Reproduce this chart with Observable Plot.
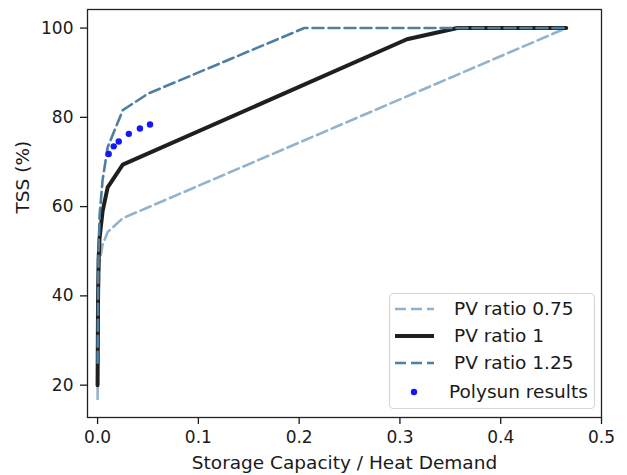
<!DOCTYPE html>
<html>
<head>
<meta charset="utf-8">
<script src="https://cdn.jsdelivr.net/npm/d3@7"></script>
<script src="https://cdn.jsdelivr.net/npm/@observablehq/plot@0.6"></script>
<style>
  html, body { margin: 0; padding: 0; background: #fff; }
  #chart { width: 627px; height: 475px; }
  svg { font-family: "DejaVu Sans", sans-serif; }
</style>
</head>
<body>
<div id="chart"></div>
<script>
// ---- data ----
const storage075 = [0, 0.0005, 0.001, 0.002, 0.005, 0.01, 0.025, 0.465];
const tss075     = [16.9, 30, 42, 47.5, 51.5, 54.3, 57.4, 100];

const storage1 = [0, 0.0005, 0.001, 0.002, 0.005, 0.01, 0.025, 0.307, 0.357, 0.465];
const tss1     = [20, 40, 48, 53, 59, 64.3, 69.4, 97.5, 100, 100];

const storage125 = [0, 0.0005, 0.001, 0.002, 0.005, 0.01, 0.025, 0.05, 0.205, 0.465];
const tss125     = [25, 40, 50, 58, 66, 73.3, 81.6, 85.3, 100, 100];

const polysunX = [0.011, 0.016, 0.021, 0.031, 0.042, 0.052];
const polysunY = [71.8, 73.5, 74.6, 76.3, 77.5, 78.4];

const xTicks = [0, 0.1, 0.2, 0.3, 0.4, 0.5];
const yTicks = [20, 40, 60, 80, 100];

const seriesLabels = ["PV ratio 0.75", "PV ratio 1", "PV ratio 1.25", "Polysun results"];
const xLabel = "Storage Capacity / Heat Demand";
const yLabel = "TSS (%)";

// ---- styles ----
const cLight = "#93b2cb";
const cBlack = "#1f1f1f";
const cDark = "#4e7fa3";
const cDots = "#1515ff";
const FS_TICK = 17;
const FS_LABEL = 18.5;

const toRows = (xs, ys) => xs.map((x, i) => ({x, y: ys[i]}));
const d075 = toRows(storage075, tss075);
const d1 = toRows(storage1, tss1);
const d125 = toRows(storage125, tss125);
const dPoly = toRows(polysunX, polysunY);

const W = 627, H = 475;
const chart = Plot.plot({
  width: W,
  height: H,
  marginLeft: 87,
  marginRight: 26,
  marginTop: 9,
  marginBottom: 58,
  style: {fontFamily: "DejaVu Sans", fontSize: FS_TICK + "px", color: "#1a1a1a", background: "#fff"},
  x: {domain: [-0.01, 0.5]},
  y: {domain: [12.75, 104.16]},
  marks: [
    Plot.line(d075, {x: "x", y: "y", stroke: cLight, strokeWidth: 2.6, strokeDasharray: "11,5"}),
    Plot.line(d1, {x: "x", y: "y", stroke: cBlack, strokeWidth: 4}),
    Plot.line(d125, {x: "x", y: "y", stroke: cDark, strokeWidth: 2.6, strokeDasharray: "11,5"}),
    Plot.dot(dPoly, {x: "x", y: "y", r: 3.2, fill: cDots, stroke: "none"}),
    Plot.axisX({ticks: xTicks, tickFormat: d3.format(".1f"), tickSize: 7, tickPadding: 6, label: null, fontSize: FS_TICK, strokeWidth: 1.3}),
    Plot.axisY({ticks: yTicks, tickSize: 7, tickPadding: 7, label: null, fontSize: FS_TICK, strokeWidth: 1.3}),
    Plot.frame({stroke: "#222", strokeWidth: 1.3}),
    Plot.text([xLabel], {text: d => d, frameAnchor: "bottom", dy: 46, lineAnchor: "middle", fontSize: FS_LABEL, fill: "#1a1a1a"}),
    Plot.text([yLabel], {text: d => d, frameAnchor: "left", dx: -64, rotate: -90, lineAnchor: "middle", fontSize: FS_LABEL, fill: "#1a1a1a"})
  ]
});
document.getElementById("chart").appendChild(chart);

// ---- legend ----
const svg = d3.select(chart);
const g = svg.append("g").attr("font-family", "DejaVu Sans").attr("font-size", FS_LABEL)
  .attr("text-anchor", "start");
g.append("rect")
  .attr("x", 389.5).attr("y", 293.5).attr("width", 205).attr("height", 115)
  .attr("rx", 4).attr("fill", "#fff").attr("fill-opacity", 0.85)
  .attr("stroke", "#d6d6d6").attr("stroke-width", 1.2);

const rowsY = [309, 336, 363, 392];
const styles = [
  {stroke: cLight, w: 2.6, dash: "11,5"},
  {stroke: cBlack, w: 4, dash: null},
  {stroke: cDark, w: 2.6, dash: "11,5"}
];
styles.forEach((s, i) => {
  const ln = g.append("line")
    .attr("x1", 395).attr("x2", 434).attr("y1", rowsY[i]).attr("y2", rowsY[i])
    .attr("stroke", s.stroke).attr("stroke-width", s.w);
  if (s.dash) ln.attr("stroke-dasharray", s.dash);
});
g.append("circle").attr("cx", 414).attr("cy", rowsY[3]).attr("r", 3.2).attr("fill", cDots);

const textX = [454, 454, 454, 449];
seriesLabels.forEach((t, i) => {
  g.append("text").attr("x", textX[i]).attr("y", rowsY[i]).attr("dy", "0.35em")
    .attr("text-anchor", "start").attr("fill", "#1a1a1a").text(t);
});
</script>
</body>
</html>
